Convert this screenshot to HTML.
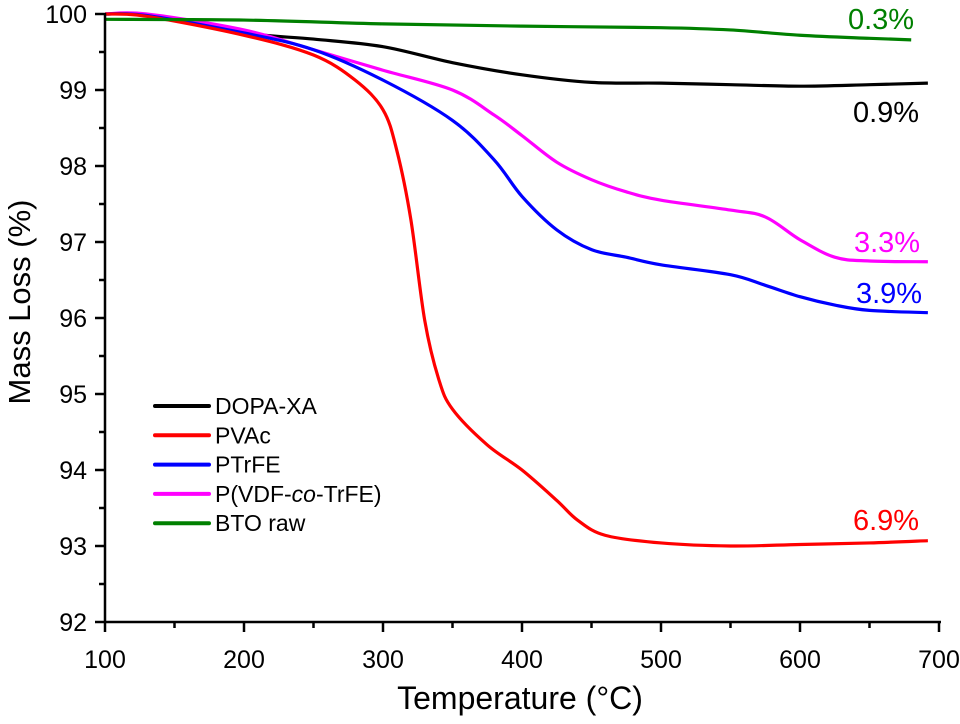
<!DOCTYPE html>
<html><head><meta charset="utf-8"><style>
body{margin:0;background:#fff}
svg{display:block;font-family:"Liberation Sans",Arial,sans-serif}
</style></head><body>
<svg id="chart" width="960" height="724" viewBox="0 0 960 724"></svg>
<script>
const temps=[100,130,200,250,280,300,310,320,330,340,350,375,400,425,440,460,500,550,600,650,692];
const pvac=[100,99.97,99.72,99.46,99.13,98.74,98.2,97.3,95.97,95.2,94.8,94.33,94.0,93.6,93.34,93.14,93.04,93.0,93.02,93.04,93.07];
const dopaT=[100,130,200,250,300,350,400,450,500,550,600,650,692];
const dopa=[100,99.98,99.75,99.67,99.57,99.36,99.2,99.1,99.09,99.07,99.05,99.07,99.09];
const ptrfeT=[100,130,200,250,300,350,380,400,425,450,475,500,550,575,600,625,650,692];
const ptrfe=[100,99.98,99.75,99.53,99.13,98.6,98.08,97.6,97.16,96.9,96.8,96.7,96.57,96.43,96.28,96.17,96.1,96.07];
const pvdfT=[100,130,200,250,300,350,380,400,425,450,475,500,550,575,600,625,650,692];
const pvdf=[100,100,99.79,99.53,99.26,99.0,98.67,98.4,98.05,97.82,97.66,97.55,97.42,97.33,97.03,96.8,96.75,96.74];
const btoT=[100,200,300,400,500,550,600,650,680];
const bto=[99.93,99.92,99.87,99.84,99.82,99.79,99.72,99.68,99.66];
const xTicks=[100,200,300,400,500,600,700];
const yTicks=[92,93,94,95,96,97,98,99,100];
const names=["DOPA-XA","PVAc","PTrFE","P(VDF-co-TrFE)","BTO raw"];
const pctLabels=["0.9%","6.9%","3.9%","3.3%","0.3%"];

const NS="http://www.w3.org/2000/svg";
const svg=document.getElementById('chart');
const X=t=>105+(t-100)*1.39;
const Y=v=>14+(100-v)*76;
function mk(tag,at,parent){const e=document.createElementNS(NS,tag);for(const k in at)e.setAttribute(k,at[k]);(parent||svg).appendChild(e);return e;}
function path(xs,ys){const p=xs.map((t,i)=>[X(t),Y(ys[i])]);let d=`M${p[0][0]},${p[0][1]}`;
for(let i=0;i<p.length-1;i++){const p0=p[Math.max(0,i-1)],p1=p[i],p2=p[i+1],p3=p[Math.min(p.length-1,i+2)];
d+=` C${p1[0]+(p2[0]-p0[0])/6},${p1[1]+(p2[1]-p0[1])/6} ${p2[0]-(p3[0]-p1[0])/6},${p2[1]-(p3[1]-p1[1])/6} ${p2[0]},${p2[1]}`;}return d;}

const series=[
 {xs:dopaT,ys:dopa,c:"#000000",n:"dopa-xa"},
 {xs:pvdfT,ys:pvdf,c:"#ff00ff",n:"pvdf-trfe"},
 {xs:ptrfeT,ys:ptrfe,c:"#0000ff",n:"ptrfe"},
 {xs:temps,ys:pvac,c:"#ff0000",n:"pvac"},
 {xs:btoT,ys:bto,c:"#008000",n:"bto-raw"}];
series.forEach(s=>{const e=mk('path',{d:path(s.xs,s.ys),fill:'none',stroke:s.c,'stroke-width':3.2,'stroke-linejoin':'round'});

});

const ax=mk('g',{stroke:'#000','stroke-width':2.5});


mk('line',{x1:105,y1:13,x2:105,y2:Y(92)},ax);
mk('line',{x1:104,y1:Y(92),x2:X(700)+2,y2:Y(92)},ax);
xTicks.forEach((t,i)=>{mk('line',{x1:X(t),y1:Y(92),x2:X(t),y2:Y(92)+10},ax);
 if(i<xTicks.length-1)mk('line',{x1:X(t+50),y1:Y(92),x2:X(t+50),y2:Y(92)+6},ax);
 const tx=mk('text',{x:X(t),y:668,'text-anchor':'middle','font-size':25,fill:'#000',stroke:'none'});tx.textContent=t;
 
 });
yTicks.forEach((v,i)=>{mk('line',{x1:95,y1:Y(v),x2:105,y2:Y(v)},ax);
 if(i<yTicks.length-1)mk('line',{x1:99,y1:Y(v+0.5),x2:105,y2:Y(v+0.5)},ax);
 const tx=mk('text',{x:87,y:Y(v)+9,'text-anchor':'end','font-size':25,fill:'#000',stroke:'none'});tx.textContent=v;
 
 });

const xt=mk('text',{x:520,y:709,'text-anchor':'middle','font-size':32,fill:'#000'});xt.textContent="Temperature (°C)";


const yt=mk('text',{x:0,y:0,transform:'translate(30,302) rotate(-90)','text-anchor':'middle','font-size':31,fill:'#000'});yt.textContent="Mass Loss (%)";



const lblPos=[[886,122],[886,530],[889,303],[887,252],[881,29]];
const lblCol=["#000","#ff0000","#0000ff","#ff00ff","#008000"];
pctLabels.forEach((l,i)=>{const t=mk('text',{x:lblPos[i][0],y:lblPos[i][1],'text-anchor':'middle','font-size':29,fill:lblCol[i]});t.textContent=l;

});

const lg=mk('g',{});


const lc=["#000","#ff0000","#0000ff","#ff00ff","#008000"];
names.forEach((n,i)=>{const y=406+i*29.3;
 mk('line',{x1:155,y1:y,x2:209,y2:y,stroke:lc[i],'stroke-width':4,'stroke-linecap':'round'},lg);
 const t=mk('text',{x:215,y:y+8,'font-size':23,fill:'#000'},lg);
 
 
 if(n.includes('-co-')){t.innerHTML='P(VDF-<tspan font-style="italic">co</tspan>-TrFE)';}else t.textContent=n;});
</script>
</body></html>
